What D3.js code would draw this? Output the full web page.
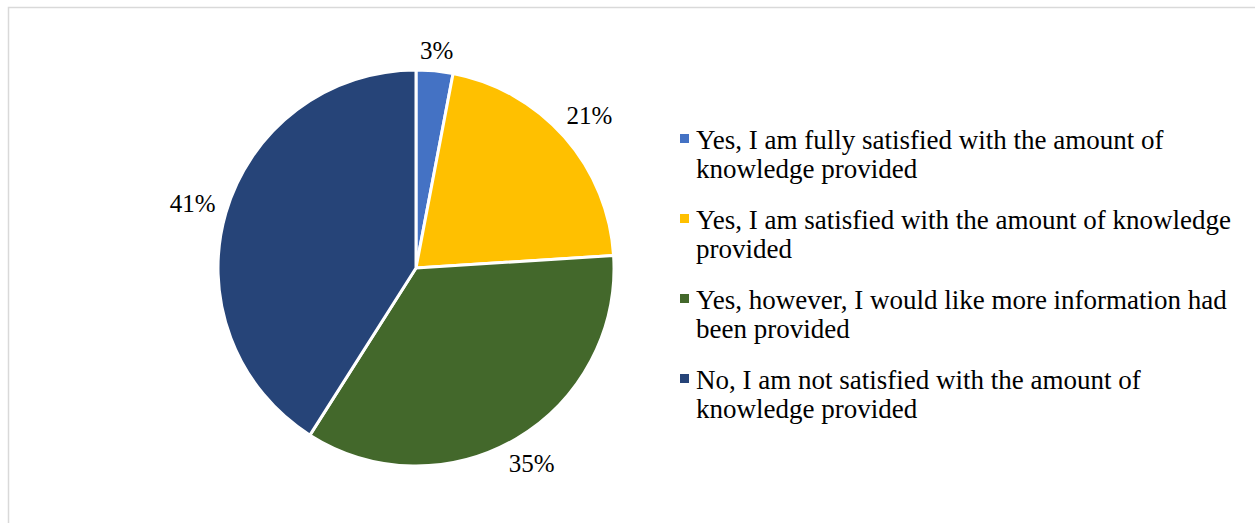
<!DOCTYPE html>
<html>
<head>
<meta charset="utf-8">
<script src="https://cdn.jsdelivr.net/npm/d3@7"></script>
<style>
  html, body { margin: 0; padding: 0; background: #fff; }
  svg { display: block; }
</style>
</head>
<body>
<svg id="chart" width="1255" height="523"></svg>
<script>
// Survey answers and their shares (percent)
const categories = [
  ["Yes, I am fully satisfied with the amount of", "knowledge provided"],
  ["Yes, I am satisfied with the amount of knowledge", "provided"],
  ["Yes, however, I would like more information had", "been provided"],
  ["No, I am not satisfied with the amount of", "knowledge provided"]
];
const values = [3, 21, 35, 41];
const colors = ["#4472C4", "#FFC000", "#43682B", "#264478"];

const FONT = "Liberation Serif";
const svg = d3.select("#chart");

// Chart area frame
svg.append("rect")
  .attr("x", 8.5).attr("y", 7.5)
  .attr("width", 1300).attr("height", 600)
  .attr("fill", "none").attr("stroke", "#d9d9d9").attr("stroke-width", 1.5);

const cx = 416, cy = 268, r = 198;
const pie = d3.pie().sort(null).value(d => d);
const arcs = pie(values);
const arc = d3.arc().innerRadius(0).outerRadius(r);

const g = svg.append("g").attr("transform", `translate(${cx},${cy})`);

g.selectAll("path.slice")
  .data(arcs)
  .join("path")
  .attr("class", "slice")
  .attr("d", arc)
  .attr("fill", (d, i) => colors[i])
  .attr("stroke", "#fff")
  .attr("stroke-width", 3)
  .attr("stroke-linejoin", "round");

// Outside-end data labels: box pushed just clear of the rim
const fmt = v => `${v}%`;
const labelFont = 25, pad = 10;
g.selectAll("text.lbl")
  .data(arcs)
  .join("text")
  .attr("class", "lbl")
  .style("font-family", FONT)
  .style("font-size", labelFont + "px")
  .attr("fill", "#000")
  .attr("text-anchor", "middle")
  .attr("dominant-baseline", "central")
  .text(d => fmt(d.data))
  .each(function(d) {
    const a = (d.startAngle + d.endAngle) / 2;
    const sx = Math.sin(a), cyv = -Math.cos(a);
    const w = this.getComputedTextLength();
    const h = 18;
    const off = r + pad + Math.abs(sx) * w / 2 + Math.abs(cyv) * h / 2;
    d3.select(this).attr("x", sx * off).attr("y", cyv * off);
  });

// Legend
const legend = svg.append("g").attr("transform", "translate(680,0)");
const rowY = [149, 229, 309, 389];
const item = legend.selectAll("g.item")
  .data(categories)
  .join("g")
  .attr("class", "item")
  .attr("transform", (d, i) => `translate(0,${rowY[i]})`);

item.append("rect")
  .attr("x", 0).attr("y", -15)
  .attr("width", 9).attr("height", 9)
  .attr("fill", (d, i) => colors[i]);

item.append("text")
  .attr("x", 16)
  .style("font-family", FONT)
  .style("font-size", "27px")
  .attr("fill", "#000")
  .selectAll("tspan")
  .data(d => d)
  .join("tspan")
  .attr("x", 16)
  .attr("dy", (d, i) => i === 0 ? 0 : 29)
  .text(d => d);
</script>
</body>
</html>
